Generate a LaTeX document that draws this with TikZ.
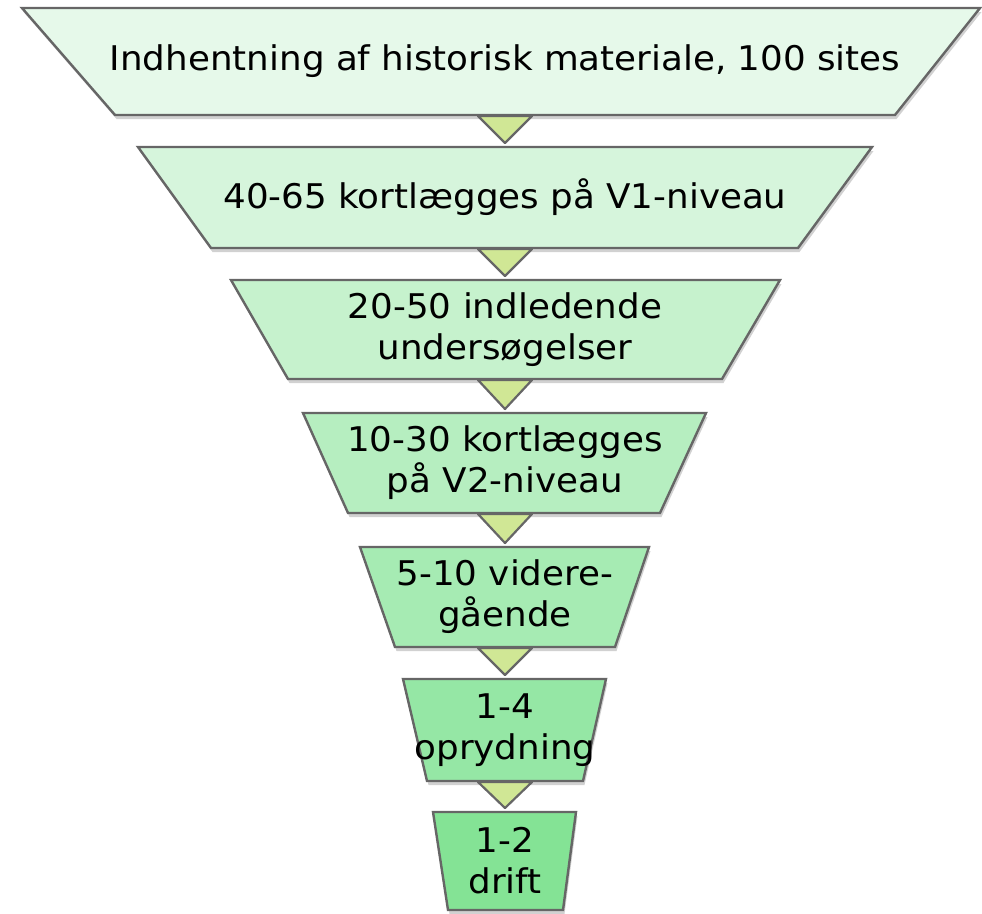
\documentclass[tikz,border=0pt]{standalone}
\usepackage{fontspec}
\setmainfont{DejaVu Sans}[FakeStretch=1.05]
\usetikzlibrary{shadows,calc}
\definecolor{edgegray}{HTML}{666666}
\definecolor{trigreen}{HTML}{D0E795}
\definecolor{ga}{HTML}{E6F9EA}
\definecolor{gb}{HTML}{D6F5DC}
\definecolor{gc}{HTML}{C6F2CD}
\definecolor{gd}{HTML}{B6EEC0}
\definecolor{ge}{HTML}{A6EBB3}
\definecolor{gf}{HTML}{95E7A5}
\definecolor{gg}{HTML}{84E395}
\begin{document}
\begin{tikzpicture}[x=1pt,y=-1pt,
  stagebox/.style={draw=edgegray, line width=2.4pt, line join=miter,
    drop shadow={shadow xshift=1.5pt, shadow yshift=-4pt, opacity=0.18, fill=black}},
  lbl/.style={font=\fontsize{34}{41}\selectfont, align=center, inner sep=0pt, text=black},
  tri/.style={draw=edgegray, fill=trigreen, line width=2.2pt, line join=round}]
\useasboundingbox (0,0) rectangle (982,913);
% stages
\path[stagebox, fill=ga] (22,8) -- (980,8) -- (895,115) -- (115,115) -- cycle;
\path[stagebox, fill=gb] (138,147) -- (872,147) -- (798,248) -- (211,248) -- cycle;
\path[stagebox, fill=gc] (231,280) -- (780,280) -- (722,379) -- (288,379) -- cycle;
\path[stagebox, fill=gd] (303,413) -- (706,413) -- (660,513) -- (348,513) -- cycle;
\path[stagebox, fill=ge] (360,547) -- (649,547) -- (615,647) -- (395,647) -- cycle;
\path[stagebox, fill=gf] (403,679) -- (606,679) -- (583,781) -- (427,781) -- cycle;
\path[stagebox, fill=gg] (433,812) -- (576,812) -- (563,910) -- (448,910) -- cycle;
% anchor coordinates
\coordinate (b1) at (505,115); \coordinate (t2) at (505,147);
\coordinate (b2) at (505,248); \coordinate (t3) at (505,280);
\coordinate (b3) at (505,379); \coordinate (t4) at (505,413);
\coordinate (b4) at (505,513); \coordinate (t5) at (505,547);
\coordinate (b5) at (505,647); \coordinate (t6) at (505,679);
\coordinate (b6) at (505,781); \coordinate (t7) at (505,812);
% connectors
\foreach \a/\b in {b1/t2,b2/t3,b3/t4,b4/t5,b5/t6,b6/t7}{
  \draw[tri] ($(\a)+(-27,1)$) -- ($(\a)+(27,1)$) -- ($(\b)+(0,-4)$) -- cycle;
}
% labels
\node[lbl] (s1) at (505,61) {Indhentning af historisk materiale, 100 sites};
\node[lbl] (s2) at (505,197) {40-65 kortlægges på V1-niveau};
\node[lbl] (s3) at (505,330) {20-50 indledende\\undersøgelser};
\node[lbl] (s4) at (505,463) {10-30 kortlægges\\på V2-niveau};
\node[lbl] (s5) at (505,597) {5-10 videre-\\gående};
\node[lbl] (s6) at (505,730) {1-4\\oprydning};
\node[lbl] (s7) at (505,861) {1-2\\drift};
\end{tikzpicture}
\end{document}
